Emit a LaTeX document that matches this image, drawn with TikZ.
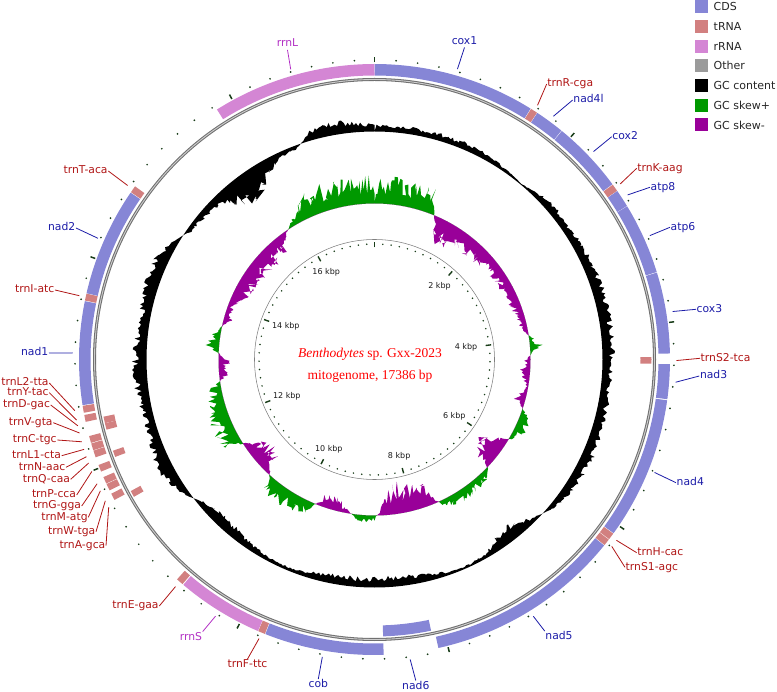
\documentclass[tikz,border=0pt]{standalone}
\usepackage{fontspec}
\setmainfont{DejaVu Sans}
\newfontfamily\ttlfont{Liberation Serif}
\definecolor{cdsc}{RGB}{134,134,214}
\definecolor{trnac}{RGB}{210,128,128}
\definecolor{rrnac}{RGB}{212,134,212}
\definecolor{otherc}{RGB}{155,155,155}
\definecolor{skp}{RGB}{0,153,0}
\definecolor{skn}{RGB}{153,0,153}
\definecolor{cdst}{RGB}{28,28,168}
\definecolor{trnt}{RGB}{176,22,22}
\definecolor{rrnt}{RGB}{178,48,196}
\definecolor{tickc}{RGB}{24,60,24}
\definecolor{ringc}{RGB}{112,112,112}
\definecolor{ringl}{RGB}{205,205,205}

\newcommand\setarr[2]{\foreach \v [count=\i from 0] in {#2}{\expandafter\xdef\csname #1\i\endcsname{\v}}}
\setarr{gcv}{6,6,6,6,6,6,5,3,1,5,7,7,9,9,10,10,10,10,9,8,8,9,10,10,9,8,4,-4,-12,-12,-4,-2,-3,-5,-8,-9,-8,-8,-8,-6,-3,-3,-4,-7,-10,-10,-6,6,12,12,10,8,10,11,11,10,9,10,12,12,6,-4,-6,-8,-20,-28,-14,-5,-3,10,12,8,6,6}
\setarr{skv}{28,28,28,27,26,-26,-26,-25,-20,-18,-17,-15,-14,-13,-12,-10,-4,14,-6,-12,-2,-12,6,16,4,-28,-28,10,12,12,12,6,-28,-30,-32,-28,6,10,-4,-18,-12,16,18,20,18,-20,-26,-20,22,24,24,20,10,-15,-12,14,8,-10,-6,-18,-22,-22,-22,-22,-20,-4,10,28,30,28,28,28,28,28}

% band: start kbp, end kbp, inner r, outer r, style
\newcommand\gseg[5]{\fill[#5] plot[variable=\q,domain=#1:#2,samples=30] ({\q*20.70631-90}:#4) -- plot[variable=\q,domain=#2:#1,samples=30] ({\q*20.70631-90}:#3) -- cycle;}
\newcommand\gout[3]{\gseg{#1}{#2}{284}{295.5}{#3}}
\newcommand\gin[3]{\gseg{#1}{#2}{266}{277}{#3}}
\newcommand\lpt[3]{\coordinate (#1) at ({#2*20.70631-90}:#3);}

\begin{document}
\begin{tikzpicture}[x=1pt,y=-1pt,
  cds/.style={fill=cdsc},
  trna/.style={fill=trnac},
  rrna/.style={fill=rrnac},
  labbase/.style={font=\fontsize{10.8}{12}\selectfont, inner sep=0.5pt, text height=8pt, text depth=2.5pt},
  cdsl/.style={labbase, text=cdst},
  trnl/.style={labbase, text=trnt},
  rrnl/.style={labbase, text=rrnt},
  cdsline/.style={draw=cdst, line width=0.8pt},
  trnline/.style={draw=trnt, line width=0.8pt},
  rrnline/.style={draw=rrnt, line width=0.8pt},
  kbp/.style={font=\fontsize{8}{9}\selectfont, text=black!90, inner sep=0pt},
  legt/.style={font=\fontsize{11}{13}\selectfont, text=black!85, inner sep=0pt, anchor=west}]
\useasboundingbox (0,0) rectangle (777,692);

\begin{scope}[shift={(374.5,359.5)}]
  % GC content
  \pgfmathsetseed{11}
  \fill[black,even odd rule] (-90:228)
    \foreach \s [evaluate=\s as \sn using int(\s+1)] in {0,...,71}{
      \foreach \j in {1,...,10}{
        -- ({\s*5+\j/2-90}:{228+((\csname gcv\s\endcsname)*(10-\j)/10+(\csname gcv\sn\endcsname)*\j/10)*(0.65+0.7*rnd)})
      }
    } -- cycle (0,0) circle[radius=228pt];
  % GC skew +
  \pgfmathsetseed{5}
  \fill[skp,even odd rule] (-90:156)
    \foreach \s [evaluate=\s as \sn using int(\s+1)] in {0,...,71}{
      \foreach \j in {1,...,10}{
        -- ({\s*5+\j/2-90}:{156+max((\csname skv\s\endcsname)*(10-\j)/10+(\csname skv\sn\endcsname)*\j/10,0)*(0.3+0.7*rnd)})
      }
    } -- cycle (0,0) circle[radius=156pt];
  % GC skew -
  \fill[skn,even odd rule] (-90:156)
    \foreach \s [evaluate=\s as \sn using int(\s+1)] in {0,...,71}{
      \foreach \j in {1,...,10}{
        -- ({\s*5+\j/2-90}:{156+min((\csname skv\s\endcsname)*(10-\j)/10+(\csname skv\sn\endcsname)*\j/10,0)*(0.3+0.7*rnd)})
      }
    } -- cycle (0,0) circle[radius=156pt];

  % inner scale circle and ticks
  \draw[line width=0.55pt, black!50] (0,0) circle[radius=120pt];
  \foreach \k in {0,...,86}{
    \pgfmathsetmacro\ang{\k*4.141263-90}
    \pgfmathtruncatemacro\ismaj{mod(\k,10)==0 ? 1 : 0}
    \ifnum\ismaj=1
      \draw[tickc, line width=1.4pt] (\ang:112) -- (\ang:117.5);
      \draw[tickc, line width=1.5pt] (\ang:297) -- (\ang:302);
    \else
      \fill[tickc] (\ang:115.5) circle[radius=0.85pt];
      \fill[tickc] (\ang:299.5) circle[radius=0.95pt];
    \fi
  }

  % backbone ring
  \draw[line width=3pt, ringc] (0,0) circle[radius=280pt];
  \draw[line width=0.9pt, ringl] (0,0) circle[radius=280pt];

  % outer strand features
  \gout{0.000}{1.540}{cds}
  \gout{1.545}{1.611}{trna}
  \gout{1.615}{1.895}{cds}
  \gout{1.900}{2.590}{cds}
  \gout{2.595}{2.665}{trna}
  \gout{2.668}{2.835}{cds}
  \gout{2.838}{3.515}{cds}
  \gout{3.520}{4.290}{cds}
  \gout{4.390}{4.720}{cds}
  \gout{4.730}{6.085}{cds}
  \gout{6.090}{6.155}{trna}
  \gout{6.160}{6.225}{trna}
  \gout{6.230}{8.090}{cds}
  \gout{8.607}{9.740}{cds}
  \gout{9.745}{9.812}{trna}
  \gout{9.815}{10.640}{rrna}
  \gout{10.650}{10.718}{trna}
  \gout{11.669}{11.735}{trna}
  \gout{11.770}{11.836}{trna}
  \gout{11.841}{11.907}{trna}
  \gout{11.963}{12.029}{trna}
  \gout{12.106}{12.172}{trna}
  \gout{12.176}{12.242}{trna}
  \gout{12.248}{12.314}{trna}
  \gout{12.451}{12.517}{trna}
  \gout{12.538}{12.604}{trna}
  \gout{12.610}{13.590}{cds}
  \gout{13.595}{13.662}{trna}
  \gout{13.665}{14.700}{cds}
  \gout{14.705}{14.772}{trna}
  \gout{15.830}{17.386}{rrna}
  % inner strand features
  \gin{4.323}{4.389}{trna}
  \gin{8.124}{8.607}{cds}
  \gin{11.604}{11.670}{trna}
  \gin{12.045}{12.111}{trna}
  \gin{12.331}{12.397}{trna}
  \gin{12.398}{12.464}{trna}

  % leader end points
  \lpt{e-cox1}{0.770}{302}
  \lpt{e-trnR}{1.578}{302}
  \lpt{e-nad4l}{1.755}{302}
  \lpt{e-cox2}{2.245}{302}
  \lpt{e-trnK}{2.630}{302}
  \lpt{e-atp8}{2.7515}{302}
  \lpt{e-atp6}{3.1765}{302}
  \lpt{e-cox3}{3.905}{302}
  \lpt{e-trnS2}{4.356}{302}
  \lpt{e-nad3}{4.555}{302}
  \lpt{e-nad4}{5.4075}{302}
  \lpt{e-trnH}{6.1225}{302}
  \lpt{e-trnS1}{6.1925}{302}
  \lpt{e-nad5}{7.160}{302}
  \lpt{e-nad6}{8.3655}{302}
  \lpt{e-cob}{9.1735}{302}
  \lpt{e-trnF}{9.7785}{302}
  \lpt{e-rrnS}{10.2275}{302}
  \lpt{e-trnE}{10.684}{302}
  \lpt{e-trnA}{11.637}{304}
  \lpt{e-trnW}{11.702}{304}
  \lpt{e-trnM}{11.803}{304}
  \lpt{e-trnG}{11.874}{304}
  \lpt{e-trnP}{11.996}{304}
  \lpt{e-trnQ}{12.078}{304}
  \lpt{e-trnN}{12.139}{304}
  \lpt{e-trnL1}{12.209}{304}
  \lpt{e-trnC}{12.281}{304}
  \lpt{e-trnV}{12.364}{304}
  \lpt{e-trnD}{12.431}{304}
  \lpt{e-trnY}{12.484}{304}
  \lpt{e-trnL2}{12.571}{304}
  \lpt{e-nad1}{13.100}{302}
  \lpt{e-trnI}{13.6285}{302}
  \lpt{e-nad2}{14.1825}{302}
  \lpt{e-trnT}{14.7385}{302}
  \lpt{e-rrnL}{16.608}{302}
\end{scope}

% kbp labels
\node[kbp] (k2) at (439.5,286) {2 kbp};
\node[kbp] (k4) at (466,347.7) {4 kbp};
\node[kbp] (k6) at (454.3,416.7) {6 kbp};
\node[kbp] (k8) at (399.2,456.7) {8 kbp};
\node[kbp] (k10) at (328.8,449) {10 kbp};
\node[kbp] (k12) at (286.8,396.7) {12 kbp};
\node[kbp] (k14) at (285.8,326.7) {14 kbp};
\node[kbp] (k16) at (326.2,272.7) {16 kbp};

% title
\node[text=red, font=\ttlfont\fontsize{13.5}{16}\selectfont, anchor=base, inner sep=0pt] (t1) at (370,357.3) {\textit{Benthodytes} sp. Gxx-2023};
\node[text=red, font=\ttlfont\fontsize{13.5}{16}\selectfont, anchor=base, inner sep=0pt] (t2) at (370,380) {mitogenome, 17386 bp};

% gene labels
\node[cdsl] (l-cox1) at (464.5,41.5) {cox1};
\node[rrnl] (l-rrnL) at (287.5,44) {rrnL};
\node[trnl, anchor=west] (l-trnR) at (546.7,84) {trnR-cga};
\node[cdsl, anchor=west] (l-nad4l) at (572.7,100) {nad4l};
\node[cdsl, anchor=west] (l-cox2) at (611.7,136.7) {cox2};
\node[trnl, anchor=west] (l-trnK) at (636.7,168.3) {trnK-aag};
\node[cdsl, anchor=west] (l-atp8) at (650,187.3) {atp8};
\node[cdsl, anchor=west] (l-atp6) at (670,227.3) {atp6};
\node[cdsl, anchor=west] (l-cox3) at (696,309.3) {cox3};
\node[trnl, anchor=west] (l-trnS2) at (700,358.3) {trnS2-tca};
\node[cdsl, anchor=west] (l-nad3) at (699.3,376) {nad3};
\node[cdsl, anchor=west] (l-nad4) at (676,482.7) {nad4};
\node[trnl, anchor=west] (l-trnH) at (636.7,552.7) {trnH-cac};
\node[trnl, anchor=west] (l-trnS1) at (625,567.3) {trnS1-agc};
\node[cdsl] (l-nad5) at (559,637) {nad5};
\node[cdsl] (l-nad6) at (415.8,686.5) {nad6};
\node[cdsl] (l-cob) at (318.3,685) {cob};
\node[trnl] (l-trnF) at (247.5,665) {trnF-ttc};
\node[rrnl, anchor=east] (l-rrnS) at (202.7,637.5) {rrnS};
\node[trnl, anchor=east] (l-trnE) at (159.3,606) {trnE-gaa};
\node[trnl, anchor=east] (l-trnA) at (106,545.7) {trnA-gca};
\node[trnl, anchor=east] (l-trnW) at (96,531.7) {trnW-tga};
\node[trnl, anchor=east] (l-trnM) at (88.3,517.3) {trnM-atg};
\node[trnl, anchor=east] (l-trnG) at (81.7,506) {trnG-gga};
\node[trnl, anchor=east] (l-trnP) at (76.7,495) {trnP-cca};
\node[trnl, anchor=east] (l-trnQ) at (70.7,479.3) {trnQ-caa};
\node[trnl, anchor=east] (l-trnN) at (66,467.3) {trnN-aac};
\node[trnl, anchor=east] (l-trnL1) at (61.7,455.7) {trnL1-cta};
\node[trnl, anchor=east] (l-trnC) at (57.3,440) {trnC-tgc};
\node[trnl, anchor=east] (l-trnV) at (53.3,422.7) {trnV-gta};
\node[trnl, anchor=east] (l-trnD) at (50.7,405) {trnD-gac};
\node[trnl, anchor=east] (l-trnY) at (49.3,392.7) {trnY-tac};
\node[trnl, anchor=east] (l-trnL2) at (49.3,383) {trnL2-tta};
\node[trnl, anchor=east] (l-trnI) at (55,290) {trnI-atc};
\node[cdsl, anchor=east] (l-nad1) at (49,353) {nad1};
\node[cdsl, anchor=east] (l-nad2) at (76,228) {nad2};
\node[trnl, anchor=east] (l-trnT) at (108.3,171) {trnT-aca};

% leader lines
\draw[cdsline] (l-cox1.south) -- (e-cox1);
\draw[rrnline] (l-rrnL.south) -- (e-rrnL);
\draw[trnline] (l-trnR.west) -- (e-trnR);
\draw[cdsline] (l-nad4l.west) -- (e-nad4l);
\draw[cdsline] (l-cox2.west) -- (e-cox2);
\draw[trnline] (l-trnK.west) -- (e-trnK);
\draw[cdsline] (l-atp8.west) -- (e-atp8);
\draw[cdsline] (l-atp6.west) -- (e-atp6);
\draw[cdsline] (l-cox3.west) -- (e-cox3);
\draw[trnline] (l-trnS2.west) -- (e-trnS2);
\draw[cdsline] (l-nad3.west) -- (e-nad3);
\draw[cdsline] (l-nad4.west) -- (e-nad4);
\draw[trnline] (l-trnH.west) -- (e-trnH);
\draw[trnline] (l-trnS1.west) -- (e-trnS1);
\draw[cdsline] (l-nad5.north west) -- (e-nad5);
\draw[cdsline] (l-nad6.north) -- (e-nad6);
\draw[cdsline] (l-cob.north) -- (e-cob);
\draw[trnline] (l-trnF.north) -- (e-trnF);
\draw[rrnline] (l-rrnS.north east) -- (e-rrnS);
\draw[trnline] (l-trnE.east) -- (e-trnE);
\foreach \g in {trnA,trnW,trnM,trnG,trnP,trnQ,trnN,trnL1,trnC,trnV,trnD,trnY,trnL2,trnI,trnT}{
  \draw[trnline] (l-\g.east) -- (e-\g);
}
\draw[cdsline] (l-nad1.east) -- (e-nad1);
\draw[cdsline] (l-nad2.east) -- (e-nad2);

% legend
\foreach \i/\c/\txt in {0/cdsc/CDS,1/trnac/tRNA,2/rrnac/rRNA,3/otherc/Other,4/black/GC content,5/skp/GC skew+,6/skn/GC skew-}{
  \fill[\c] (695,{0.3+19.7*\i}) rectangle ++(12.5,13);
  \node[legt] (leg\i) at (713.5,{6.8+19.7*\i}) {\txt};
}
\end{tikzpicture}
\end{document}
